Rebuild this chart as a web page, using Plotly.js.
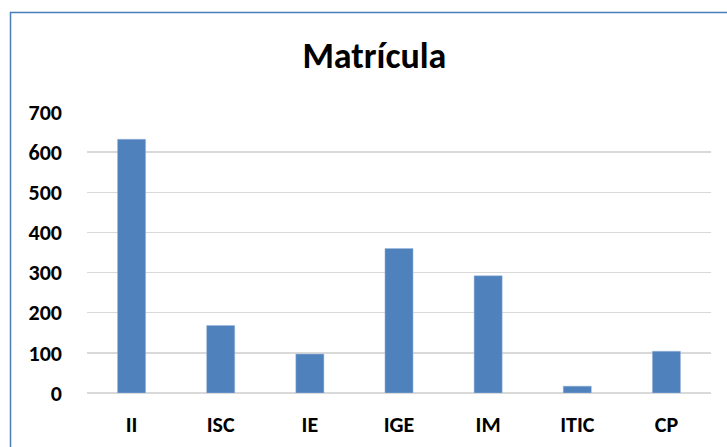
<!DOCTYPE html>
<html><head><meta charset="utf-8">
<script src="https://cdn.plot.ly/plotly-3.0.1.min.js"></script>
<style>html,body{margin:0;padding:0;background:#fff;}#chart{width:727px;height:447px;}</style>
</head><body><div id="chart"></div>
<script>
const categories = ["II","ISC","IE","IGE","IM","ITIC","CP"];
const matricula = [632,168,97,360,292,17,104];
const yTicks = [0,100,200,300,400,500,600,700];

const W = 727, H = 447, mL = 87, mR = 16, mT = 112, mB = 54;
const pw = W - mL - mR, ph = H - mT - mB;
const fnt = "Carlito, 'Open Sans', 'Liberation Sans', sans-serif";

Plotly.newPlot('chart', [{
  type: 'bar', x: categories, y: matricula,
  marker: {color: '#4f81bd', line: {color: '#9fb8dc', width: 0.5}},
  hoverinfo: 'skip'
}], {
  width: W, height: H,
  margin: {l: mL, r: mR, t: mT, b: mB, pad: 0},
  paper_bgcolor: '#fff', plot_bgcolor: '#fff',
  bargap: 0.685,
  showlegend: false,
  title: {text: '<b>Matrícula</b>', x: 0.515, xanchor: 'center', y: 0.875, yanchor: 'middle',
          font: {family: fnt, size: 36, color: '#000'}},
  xaxis: {showgrid: false, zeroline: false, showline: false, ticks: '',
          tickfont: {family: fnt, size: 22, color: '#000', weight: 'bold'}, ticklabelstandoff: 16},
  yaxis: {range: [0, 700], tickvals: yTicks, ticktext: yTicks.map(String),
          showgrid: true, gridcolor: '#d9d9d9', gridwidth: 1.5,
          zeroline: true, zerolinecolor: '#d9d9d9', zerolinewidth: 1.5,
          showline: false, ticks: '',
          tickfont: {family: fnt, size: 22, color: '#000', weight: 'bold'}, ticklabelstandoff: 24},
  shapes: [{
    type: 'rect', xref: 'paper', yref: 'paper',
    x0: (10.5 - mL) / pw, x1: (W + 20 - mL) / pw,
    y0: -(H + 20 - mT - ph) / ph, y1: 1 + (mT - 12.5) / ph,
    line: {color: '#4a7ebb', width: 1.5}, fillcolor: 'rgba(0,0,0,0)', layer: 'below'
  }]
}, {staticPlot: true});
</script></body></html>
